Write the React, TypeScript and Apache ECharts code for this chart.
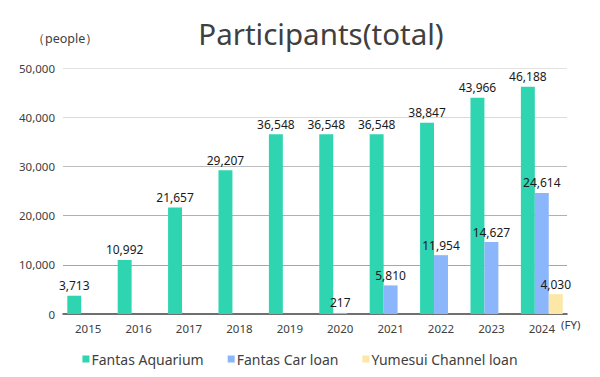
import React, { useEffect, useRef } from "react";
import * as echarts from "echarts";

const years = ["2015", "2016", "2017", "2018", "2019", "2020", "2021", "2022", "2023", "2024"];
const aquarium = [3713, 10992, 21657, 29207, 36548, 36548, 36548, 38847, 43966, 46188];
const carLoan = [null, null, null, null, null, 217, 5810, 11954, 14627, 24614];
const yumesui = [null, null, null, null, null, null, null, null, null, 4030];
const seriesNames = ["Fantas Aquarium", "Fantas Car loan", "Yumesui Channel loan"];
const colors = ["#2fd4b0", "#8cb6fb", "#fde7a6"];

const FONT = "'Noto Sans', sans-serif";

export default function App() {
  const ref = useRef<HTMLDivElement>(null);
  useEffect(() => {
    const chart = echarts.init(ref.current!, null, { renderer: "svg" });
    const label = {
      show: true,
      position: "top" as const,
      distance: 4,
      color: "#1a1a1a",
      fontSize: 12,
      fontFamily: FONT,
      formatter: (p: any) => (p.value == null ? "" : Number(p.value).toLocaleString("en-US")),
    };
    const datas = [aquarium, carLoan, yumesui];
    chart.setOption({
      animation: false,
      textStyle: { fontFamily: FONT },
      title: {
        text: "Participants(total)",
        left: 316,
        top: 13,
        textAlign: "center",
        textStyle: { fontSize: 29.5, fontWeight: "normal", color: "#404040", fontFamily: FONT },
      },
      graphic: [
        {
          type: "text",
          left: 32,
          top: 32,
          style: { text: "（people）", fontSize: 12.5, fill: "#404040", fontFamily: FONT },
        },
        {
          type: "text",
          left: 561,
          top: 318,
          style: { text: "(FY)", fontSize: 11.5, fill: "#404040", fontFamily: FONT },
        },
      ],
      legend: {
        bottom: 6,
        left: "center",
        itemWidth: 7,
        itemHeight: 7,
        itemGap: 24,
        icon: "rect",
        textStyle: { fontSize: 14, color: "#404040", fontFamily: FONT, padding: [0, 0, 0, -3] },
        data: seriesNames,
      },
      grid: { left: 63, right: 33, top: 68, bottom: 63, containLabel: false },
      xAxis: {
        type: "category",
        data: years,
        axisLine: { lineStyle: { color: "#404040", width: 1.5 } },
        axisTick: { show: false },
        axisLabel: { color: "#404040", fontSize: 11.5, margin: 8, fontFamily: FONT },
      },
      yAxis: {
        type: "value",
        min: 0,
        max: 50000,
        interval: 10000,
        axisLine: { show: false },
        axisTick: { show: false },
        axisLabel: {
          color: "#404040",
          fontSize: 11.5,
          margin: 8,
          fontFamily: FONT,
          formatter: (v: number) => v.toLocaleString("en-US"),
        },
        splitLine: {
          lineStyle: { color: ["#ffffff", "#a6a6a6", "#b0b0b0", "#bdbdbd", "#dadada", "#e3e3e3"], width: 1 },
        },
      },
      series: seriesNames.map((name, i) => ({
        name,
        type: "bar",
        data: datas[i],
        barGap: "0%",
        barCategoryGap: "17%",
        itemStyle: { color: colors[i] },
        label,
      })),
    });
    return () => chart.dispose();
  }, []);
  return <div ref={ref} style={{ position: "absolute", left: 0, top: 0, width: 600, height: 377 }} />;
}
